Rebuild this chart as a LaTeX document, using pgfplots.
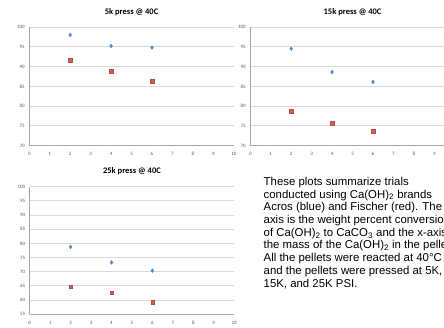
\documentclass[border=0pt]{standalone}
\usepackage{fontspec}
\setmainfont{Liberation Sans}
\newfontfamily\carlito{Carlito}
\usepackage{pgfplots}
\pgfplotsset{compat=1.18}
\definecolor{sblue}{HTML}{5A8ED2}
\definecolor{sred}{HTML}{D95B59}
\definecolor{gridc}{HTML}{D9D9D9}
\definecolor{axisc}{HTML}{A6A6A6}
\pgfplotsset{
  excel/.style={
    scale only axis,
    anchor=south west,
    width=204.5pt,
    xmin=0, xmax=10,
    xtick={0,1,...,10},
    axis x line*=bottom,
    axis y line*=left,
    axis line style={axisc, line width=0.6pt},
    ymajorgrids,
    grid style={gridc, line width=0.9pt},
    major tick length=0pt,
    tick style={draw=none},
    /pgf/number format/assume math mode=true,
    tick label style={font=\carlito\fontsize{5}{6}\selectfont, text=black!65},
    yticklabel style={xshift=-1pt},
    xticklabel style={yshift=-3pt},
    title style={font=\carlito\bfseries\fontsize{8.5}{10}\selectfont, yshift=2pt},
    clip=false,
  },
  blue/.style={only marks, mark=diamond*, mark size=2pt, color=sblue, mark options={fill=sblue, draw=sblue!85!black, line width=0.2pt}},
  red/.style={only marks, mark=square*, mark size=1.8pt, color=sred, mark options={fill=sred, draw=sred!85!black, line width=0.2pt}},
}
\begin{document}
\begin{tikzpicture}
\useasboundingbox (0,0) rectangle (444pt,327pt);
\clip (0,0) rectangle (444pt,327pt);
% chart 1
\begin{axis}[excel, at={(29.3pt,181.3pt)}, height=118.7pt,
  ymin=70, ymax=100, ytick={70,75,...,100},
  title={5k press @ 40C}]
\addplot[blue] coordinates {(2,98.0) (4,95.2) (6,94.8)};
\addplot[red] coordinates {(2,91.7) (4,88.9) (6,86.4)};
\end{axis}
% chart 2
\begin{axis}[excel, at={(250.3pt,181.3pt)}, height=118.7pt,
  ymin=70, ymax=100, ytick={70,75,...,100},
  title={15k press @ 40C}]
\addplot[blue] coordinates {(2,94.5) (4,88.6) (6,86.1)};
\addplot[red] coordinates {(2,78.8) (4,75.7) (6,73.7)};
\end{axis}
% chart 3
\begin{axis}[excel, at={(29.7pt,12.7pt)}, height=127.6pt,
  ymin=55, ymax=100, ytick={55,60,...,100},
  title={25k press @ 40C}]
\addplot[blue] coordinates {(2,78.8) (4,73.3) (6,70.4)};
\addplot[red] coordinates {(2,64.7) (4,62.6) (6,59.2)};
\end{axis}
% text
\node[anchor=north west, inner sep=0pt, align=left,
  font=\fontsize{11.4}{12.7}\selectfont] at (263.5pt,150pt) {%
These plots summarize trials\\
conducted using Ca(OH)\textsubscript{2} brands\\
Acros (blue) and Fischer (red). The y\\
axis is the weight percent conversion\\
of Ca(OH)\textsubscript{2} to CaCO\textsubscript{3} and the x-axis is\\
the mass of the Ca(OH)\textsubscript{2} in the pellet.\\
All the pellets were reacted at 40\textdegree C\\
and the pellets were pressed at 5K,\\
15K, and 25K PSI.};
\end{tikzpicture}
\end{document}
